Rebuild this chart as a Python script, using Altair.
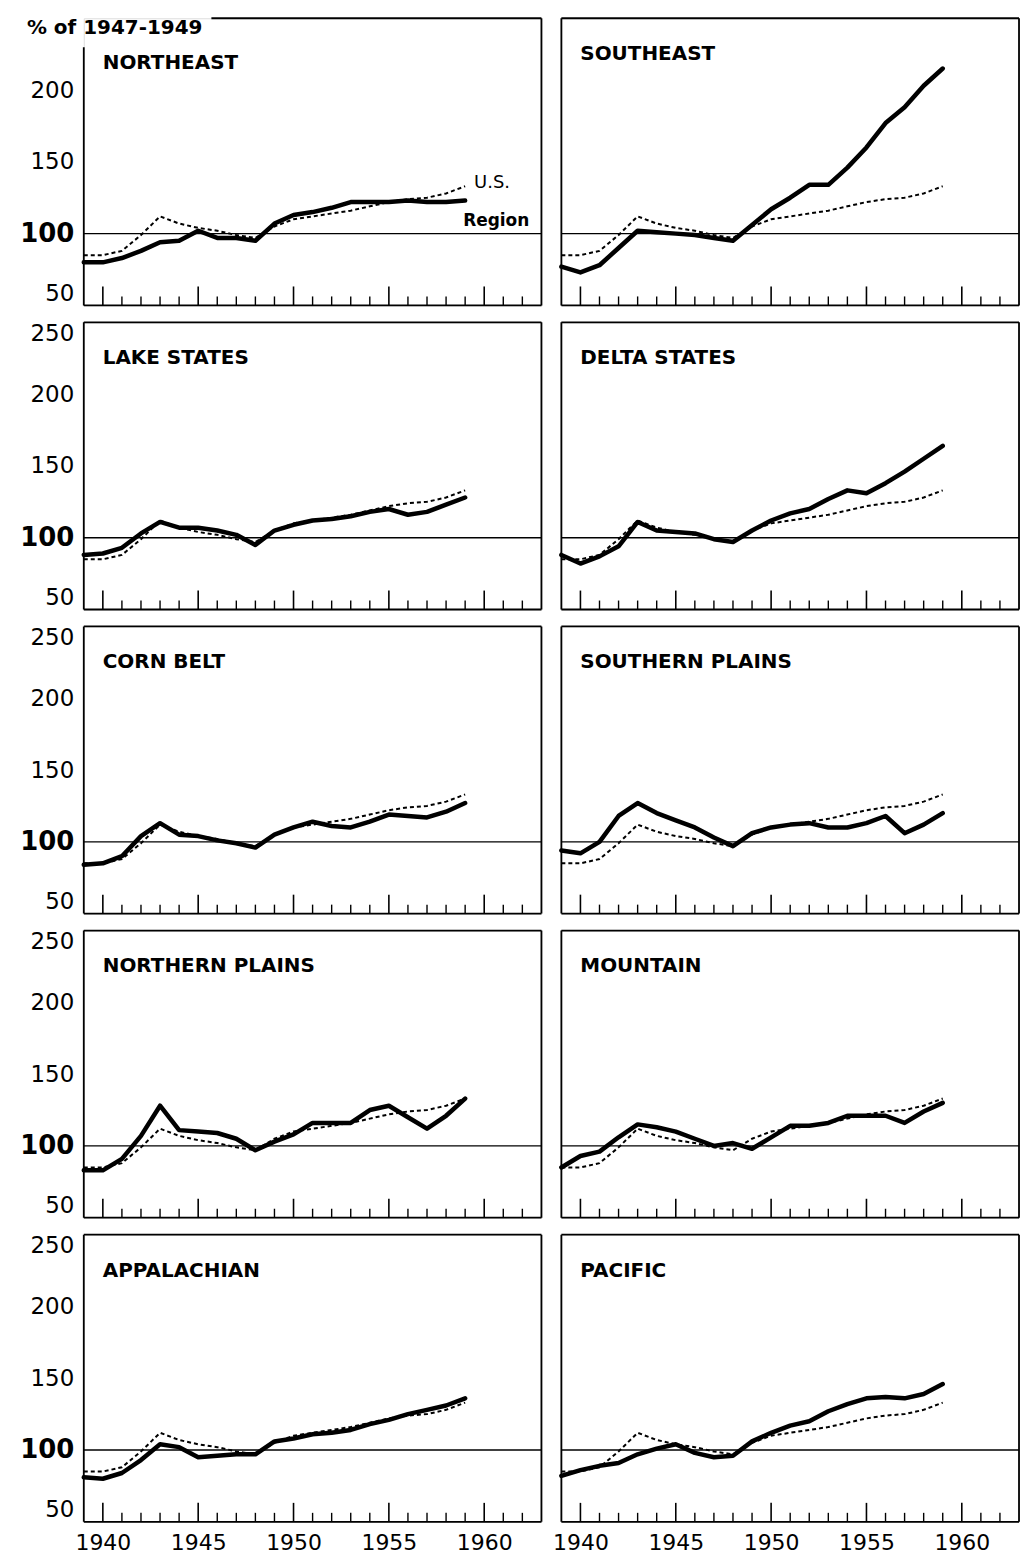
import altair as alt
import pandas as pd

# ---------------- data ----------------
years = list(range(1939, 1960))
us_index = [85, 85, 88, 99, 112, 107, 104, 102, 99, 97, 105, 110, 112, 114, 116, 119, 122, 124, 125, 128, 133]

northeast = [80, 80, 83, 88, 94, 95, 102, 97, 97, 95, 107, 113, 115, 118, 122, 122, 122, 123, 122, 122, 123]
southeast = [77, 73, 78, 90, 102, 101, 100, 99, 97, 95, 106, 117, 125, 134, 134, 146, 160, 177, 188, 203, 215]
lake_states = [88, 89, 93, 103, 111, 107, 107, 105, 102, 95, 105, 109, 112, 113, 115, 118, 120, 116, 118, 123, 128]
delta_states = [88, 82, 87, 94, 111, 105, 104, 103, 99, 97, 105, 112, 117, 120, 127, 133, 131, 138, 146, 155, 164]
corn_belt = [84, 85, 90, 104, 113, 105, 104, 101, 99, 96, 105, 110, 114, 111, 110, 114, 119, 118, 117, 121, 127]
southern_plains = [94, 92, 100, 118, 127, 120, 115, 110, 103, 97, 106, 110, 112, 113, 110, 110, 113, 118, 106, 112, 120]
northern_plains = [83, 83, 91, 107, 128, 111, 110, 109, 105, 97, 103, 108, 116, 116, 116, 125, 128, 120, 112, 121, 133]
mountain = [85, 93, 96, 106, 115, 113, 110, 105, 100, 102, 98, 106, 114, 114, 116, 121, 121, 121, 116, 124, 130]
appalachian = [81, 80, 84, 93, 104, 102, 95, 96, 97, 97, 106, 108, 111, 112, 114, 118, 121, 125, 128, 131, 136]
pacific = [82, 86, 89, 91, 97, 101, 104, 98, 95, 96, 106, 112, 117, 120, 127, 132, 136, 137, 136, 139, 146]

panel_names = ["NORTHEAST", "SOUTHEAST", "LAKE STATES", "DELTA STATES", "CORN BELT",
               "SOUTHERN PLAINS", "NORTHERN PLAINS", "MOUNTAIN", "APPALACHIAN", "PACIFIC"]
panel_values = [northeast, southeast, lake_states, delta_states, corn_belt,
                southern_plains, northern_plains, mountain, appalachian, pacific]

reference_level = [100]
major_tick_years = [1940, 1945, 1950, 1955, 1960]
minor_tick_years = [1941, 1942, 1943, 1944, 1946, 1947, 1948, 1949, 1951, 1952, 1953, 1954,
                    1956, 1957, 1958, 1959, 1961, 1962]
x_label_values = [1940, 1945, 1950, 1955, 1960]
y_label_values_top = [50, 100, 150, 200]
y_label_values = [50, 100, 150, 200, 250]
unit_label = "% of 1947-1949"

# ---------------- layout / style ----------------
W, H = 459, 288
X_DOMAIN = [1939, 1963]
Y_DOMAIN = [50, 250]
FONT = "DejaVu Sans"
FRAME_W = 1.8


def one_row(**kw):
    return pd.DataFrame({k: [v] for k, v in kw.items()})


def make_panel(idx):
    name = panel_names[idx]
    values = panel_values[idx]
    row, col = divmod(idx, 2)
    df = pd.DataFrame({"year": years, "region": values, "us": us_index})

    xs = alt.Scale(domain=X_DOMAIN, nice=False, zero=False)
    ys = alt.Scale(domain=Y_DOMAIN, nice=False, zero=False)

    if col == 0:
        yaxis = alt.Axis(
            values=y_label_values_top if row == 0 else y_label_values,
            title=None, ticks=False, domain=False, grid=False,
            labelPadding=10, labelFlush=True, labelFont=FONT, labelColor="black",
            labelFontSize={"condition": {"test": "datum.value == 100", "value": 26}, "value": 23},
            labelFontWeight={"condition": {"test": "datum.value == 100", "value": "bold"}, "value": "normal"},
        )
    else:
        yaxis = None

    if row == 4:
        xaxis = alt.Axis(values=x_label_values, format="d", title=None, ticks=False,
                         domain=False, grid=False, labelPadding=11, labelFont=FONT,
                         labelFontSize=22, labelColor="black")
    else:
        xaxis = None

    X = alt.X("year:Q", scale=xs, axis=xaxis)

    ref = alt.Chart(pd.DataFrame({"level": reference_level})).mark_rule(
        color="black", strokeWidth=1.4
    ).encode(y=alt.Y("level:Q", scale=ys, axis=yaxis))

    us = alt.Chart(df).mark_line(color="black", strokeWidth=2, strokeDash=[4, 3]).encode(
        x=X, y=alt.Y("us:Q", scale=ys, axis=yaxis))

    reg = alt.Chart(df).mark_line(color="black", strokeWidth=4.5, strokeJoin="round",
                                  strokeCap="round").encode(
        x=X, y=alt.Y("region:Q", scale=ys, axis=yaxis))

    major = alt.Chart(pd.DataFrame({"year": major_tick_years})).mark_rule(
        color="black", strokeWidth=1.6
    ).encode(x=X, y=alt.value(H), y2=alt.value(H - 19))

    minor = alt.Chart(pd.DataFrame({"year": minor_tick_years})).mark_rule(
        color="black", strokeWidth=1.4
    ).encode(x=X, y=alt.value(H), y2=alt.value(H - 9))

    is_first = (idx == 0)
    title = alt.Chart(one_row(t=name)).mark_text(
        align="left", baseline="middle", font=FONT, fontSize=20, fontWeight="bold", color="black"
    ).encode(x=alt.value(19), y=alt.value(45 if is_first else 36), text="t:N")

    # frame
    frame = alt.Chart(one_row(k=0))
    top = frame.mark_rule(color="black", strokeWidth=FRAME_W).encode(
        x=alt.value(128 if is_first else 0), x2=alt.value(W), y=alt.value(0))
    right = frame.mark_rule(color="black", strokeWidth=FRAME_W).encode(
        x=alt.value(W), y=alt.value(0), y2=alt.value(H))
    bottom = frame.mark_rule(color="black", strokeWidth=FRAME_W).encode(
        x=alt.value(0), x2=alt.value(W), y=alt.value(H))
    left = frame.mark_rule(color="black", strokeWidth=FRAME_W).encode(
        x=alt.value(0), y=alt.value(29 if is_first else 0), y2=alt.value(H))

    layers = [ref, us, reg, major, minor, title, top, right, bottom, left]

    if is_first:
        header = alt.Chart(one_row(t=unit_label)).mark_text(
            align="left", baseline="middle", font=FONT, fontSize=20, fontWeight="bold", color="black"
        ).encode(x=alt.value(-57), y=alt.value(10), text="t:N")
        ann = pd.DataFrame({
            "label": ["U.S.", "Region"],
            "year": [years[-1], years[-1]],
            "value": [us_index[-1], values[-1]],
        })
        us_lab = alt.Chart(ann[ann.label == "U.S."]).mark_text(
            align="left", baseline="middle", font=FONT, fontSize=18, color="black", dx=9, dy=-3
        ).encode(x=X, y=alt.Y("value:Q", scale=ys, axis=yaxis), text="label:N")
        reg_lab = alt.Chart(ann[ann.label == "Region"]).mark_text(
            align="left", baseline="middle", font=FONT, fontSize=17, fontWeight="bold",
            color="black", dx=-2, dy=20
        ).encode(x=X, y=alt.Y("value:Q", scale=ys, axis=yaxis), text="label:N")
        layers += [header, us_lab, reg_lab]

    return alt.layer(*layers).properties(width=W, height=H)


panels = [make_panel(i) for i in range(len(panel_names))]

chart = alt.concat(
    *panels, columns=2, spacing={"row": 17, "column": 20}, bounds="flush"
).properties(
    padding={"left": 11, "top": 6, "right": 0, "bottom": 0}
).configure_view(
    strokeOpacity=0
).configure(background="white")

chart.save("out.html", embed_options={"renderer": "svg", "actions": False})
